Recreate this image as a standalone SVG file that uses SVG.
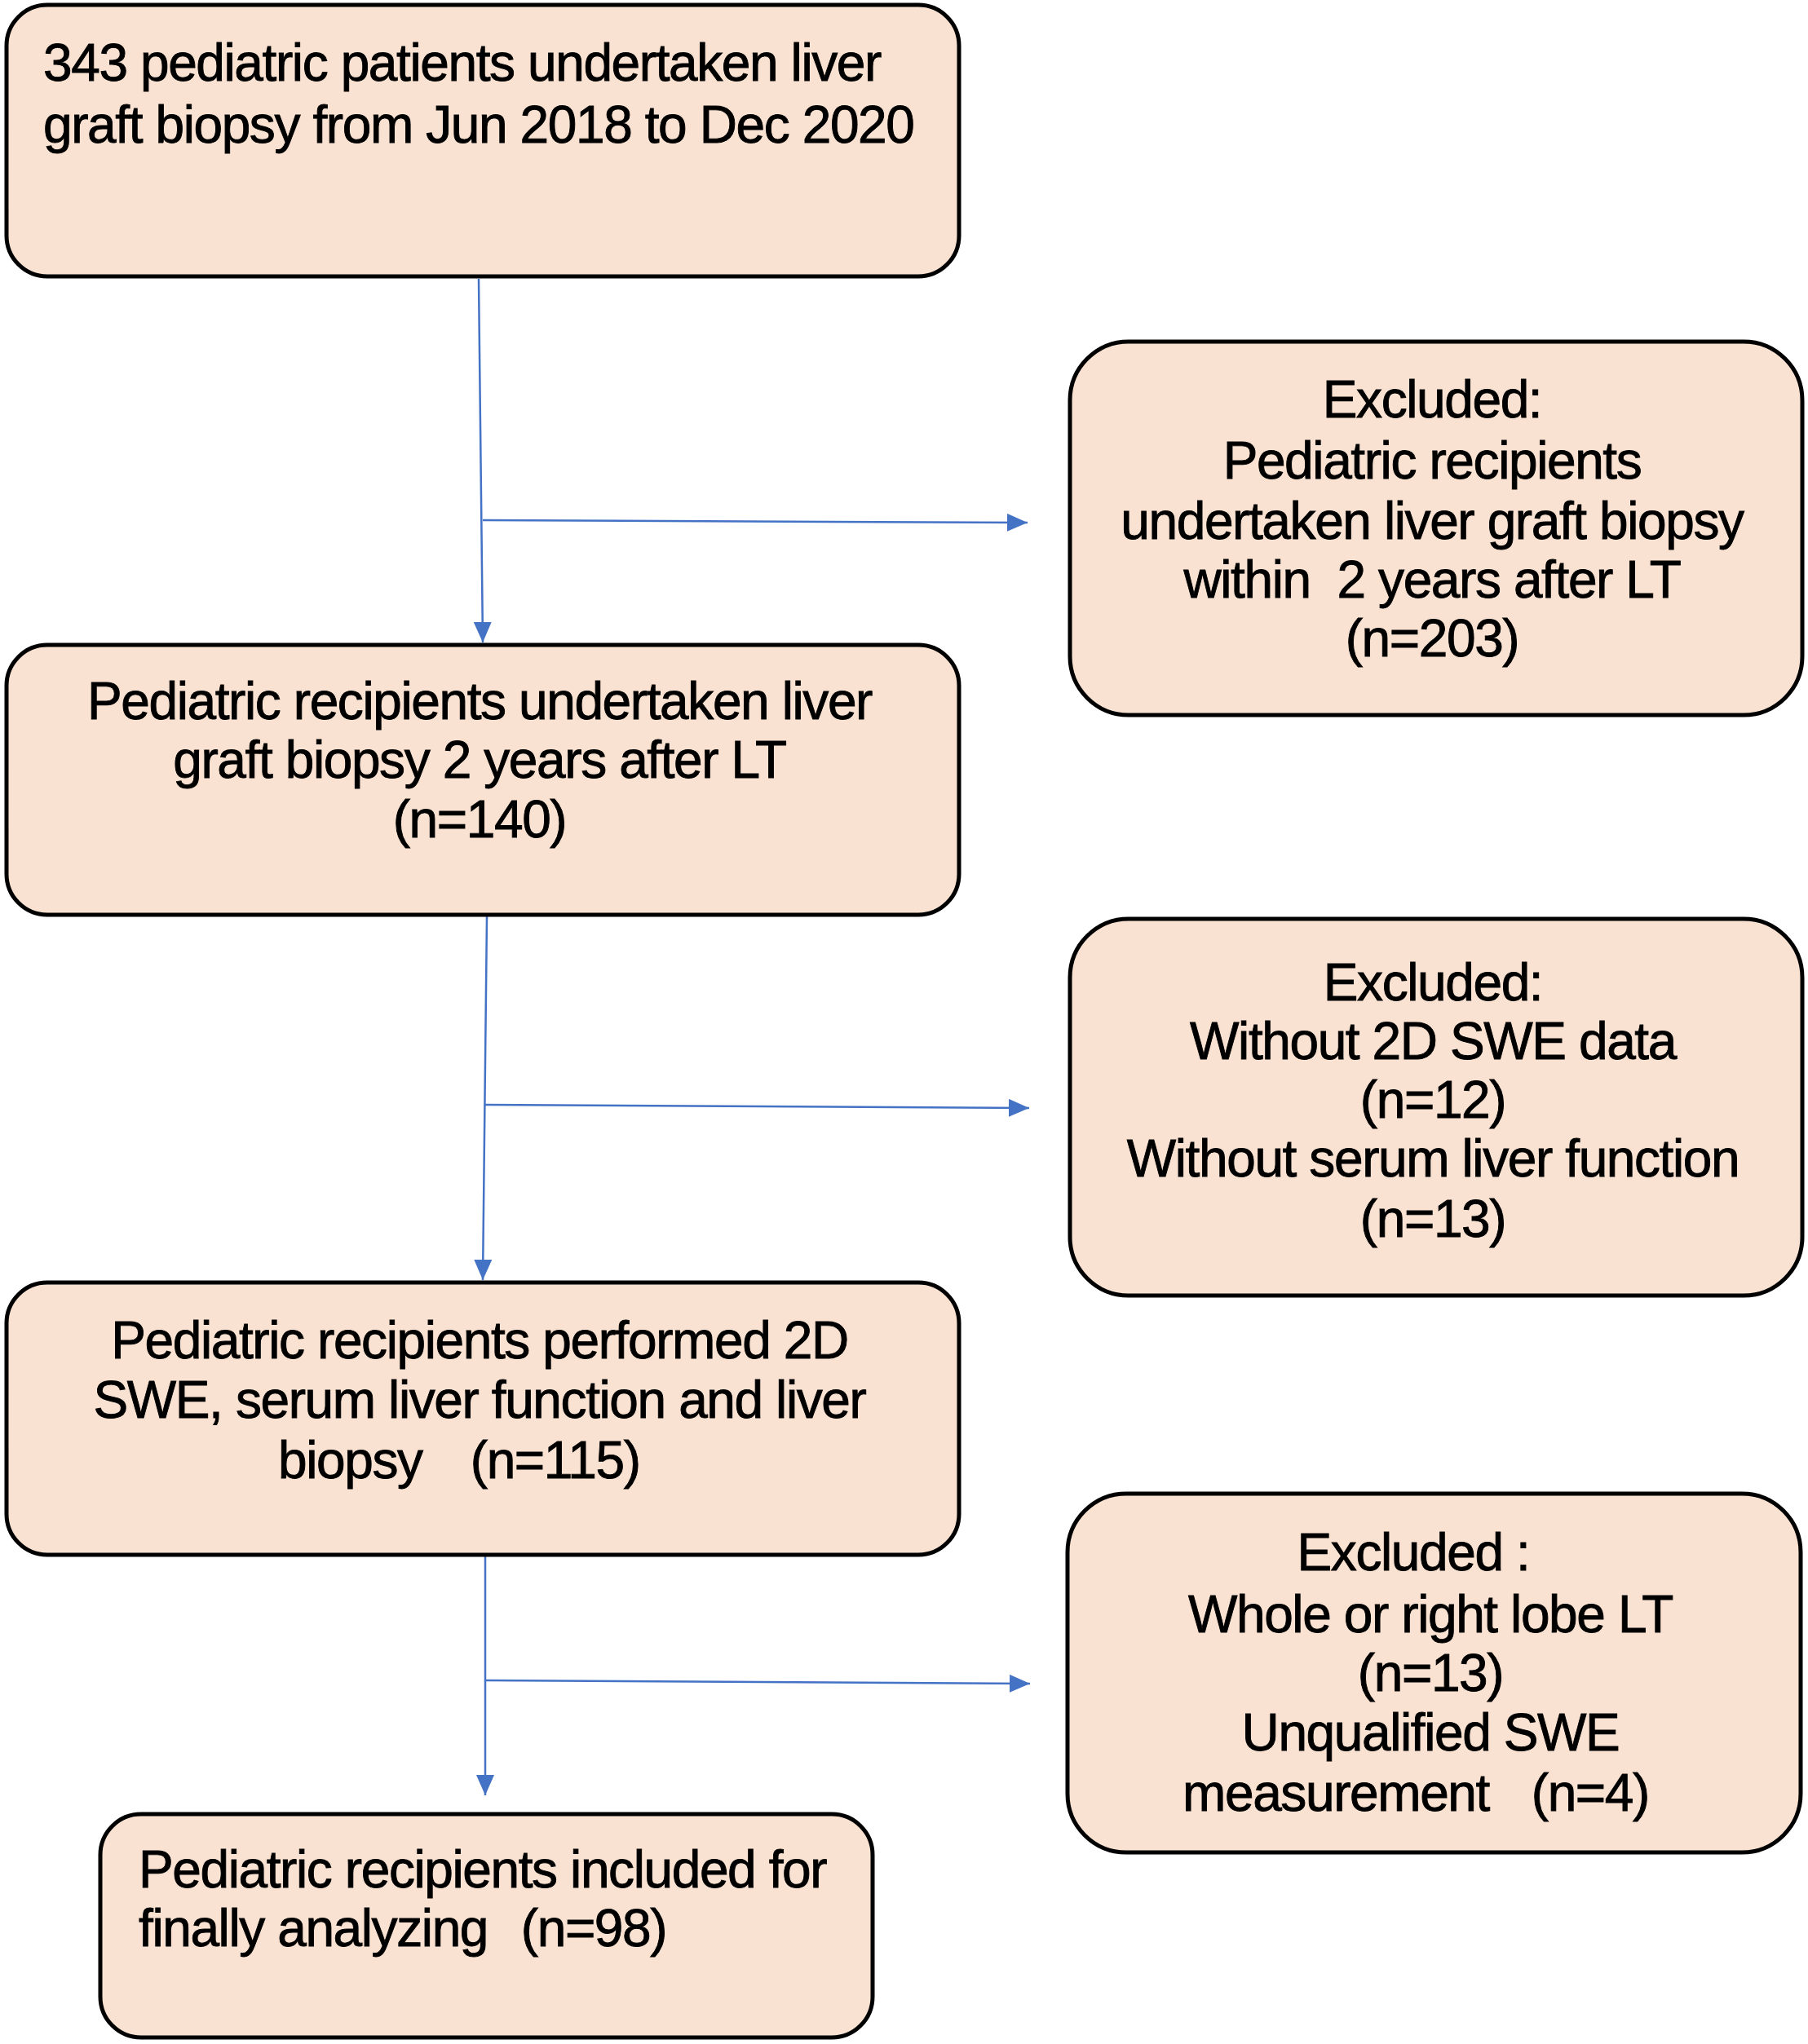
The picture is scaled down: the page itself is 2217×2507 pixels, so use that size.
<svg xmlns="http://www.w3.org/2000/svg" width="2217" height="2507" viewBox="0 0 2217 2507">
<style>
.box{fill:#F9E2D2;stroke:#000;stroke-width:5}
.t{font-family:"Liberation Sans",Arial,sans-serif;font-size:64px;letter-spacing:-1.4px;fill:#000;stroke:#000;stroke-width:0.9}
.c{text-anchor:middle}
.conn{fill:none;stroke:#4472C4;stroke-width:2.5}
</style>
<defs>
<marker id="ah" markerUnits="userSpaceOnUse" markerWidth="28" markerHeight="24" refX="25" refY="11" orient="auto" viewBox="0 0 28 24">
<path d="M0,0 L25,11 L0,22 z" fill="#4472C4"/>
</marker>
</defs>
<rect x="0" y="0" width="2217" height="2507" fill="#fff"/>
<g id="connectors">
<path class="conn" d="M587,342 L592,788" marker-end="url(#ah)"/>
<path class="conn" d="M592,638 L1260,641" marker-end="url(#ah)"/>
<path class="conn" d="M597,1124 L592,1570" marker-end="url(#ah)"/>
<path class="conn" d="M594,1355 L1262,1359" marker-end="url(#ah)"/>
<path class="conn" d="M595,1909 L595,2202" marker-end="url(#ah)"/>
<path class="conn" d="M595,2061 L1263,2065" marker-end="url(#ah)"/>
</g>
<g id="n1">
<rect class="box" x="8" y="6" width="1168" height="333" rx="50"/>
<text class="t" x="53" y="99">343 pediatric patients undertaken liver</text>
<text class="t" x="53" y="175">graft biopsy from Jun 2018 to Dec 2020</text>
</g>
<g id="n2">
<rect class="box" x="1312" y="419" width="898" height="458" rx="72"/>
<text class="t c" x="1756" y="512">Excluded:</text>
<text class="t c" x="1756" y="587">Pediatric recipients</text>
<text class="t c" x="1756" y="661">undertaken liver graft biopsy</text>
<text class="t c" x="1756" y="733" xml:space="preserve">within  2 years after LT</text>
<text class="t c" x="1756" y="805">(n=203)</text>
</g>
<g id="n3">
<rect class="box" x="8" y="791" width="1168" height="331" rx="50"/>
<text class="t c" x="588" y="882">Pediatric recipients undertaken liver</text>
<text class="t c" x="588" y="954">graft biopsy 2 years after LT</text>
<text class="t c" x="588" y="1027">(n=140)</text>
</g>
<g id="n4">
<rect class="box" x="1312" y="1127" width="898" height="462" rx="72"/>
<text class="t c" x="1757" y="1227">Excluded:</text>
<text class="t c" x="1757" y="1299">Without 2D SWE data</text>
<text class="t c" x="1757" y="1371">(n=12)</text>
<text class="t c" x="1757" y="1443">Without serum liver function</text>
<text class="t c" x="1757" y="1517">(n=13)</text>
</g>
<g id="n5">
<rect class="box" x="8" y="1573" width="1168" height="334" rx="50"/>
<text class="t c" x="588" y="1666">Pediatric recipients performed 2D</text>
<text class="t c" x="588" y="1739">SWE, serum liver function and liver</text>
<text class="t" x="341" y="1813" xml:space="preserve">biopsy   <tspan dx="10">(n=115)</tspan></text>
</g>
<g id="n6">
<rect class="box" x="1309" y="1832" width="899" height="440" rx="72"/>
<text class="t c" x="1733" y="1926">Excluded :</text>
<text class="t c" x="1754" y="2002">Whole or right lobe LT</text>
<text class="t c" x="1754" y="2074">(n=13)</text>
<text class="t c" x="1754" y="2147">Unqualified SWE</text>
<text class="t c" x="1736" y="2221" xml:space="preserve">measurement  <tspan dx="19">(n=4)</tspan></text>
</g>
<g id="n7">
<rect class="box" x="123" y="2225" width="947" height="274" rx="50"/>
<text class="t" x="170" y="2315">Pediatric recipients included for</text>
<text class="t" x="170" y="2387" xml:space="preserve">finally analyzing  <tspan dx="8">(n=98)</tspan></text>
</g>
</svg>
